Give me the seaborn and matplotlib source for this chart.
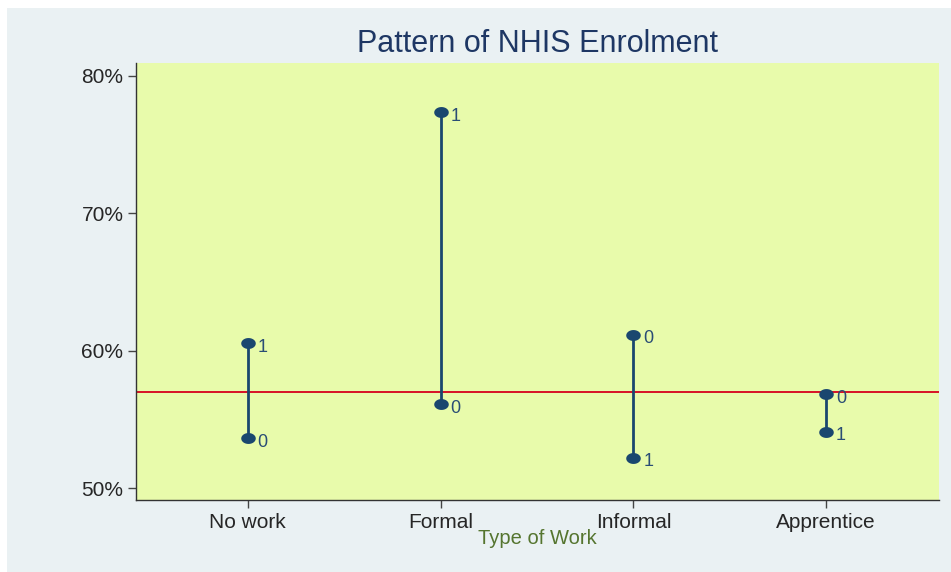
import numpy as np
import pandas as pd
import matplotlib
matplotlib.use("Agg")
import matplotlib.pyplot as plt
import seaborn as sns
from matplotlib.patches import Rectangle
from matplotlib.path import Path

# data
work_types = ["No work", "Formal", "Informal", "Apprentice"]
enrol_group1 = [60.55, 77.35, 52.2, 54.1]   # label "1"
enrol_group0 = [53.65, 56.1, 61.15, 56.85]  # label "0"
overall_rate = 56.95
y_ticks = [50, 60, 70, 80]

navy = "#1a476f"
df = pd.DataFrame({
    "pos": list(range(4)) * 2,
    "rate": enrol_group1 + enrol_group0,
    "grp": ["1"] * 4 + ["0"] * 4,
})

# slightly flattened circle, like the stata marker in the original
t = np.linspace(0, 2 * np.pi, 40)
ellipse = Path(np.column_stack([np.cos(t), 0.75 * np.sin(t)]), closed=True)

sns.set_style("white")
plt.rcParams["font.family"] = ["Liberation Sans", "DejaVu Sans"]

fig = plt.figure(figsize=(9.51, 5.72), dpi=100, facecolor="white")
fig.patches.append(Rectangle((7 / 951, 0), 1, 1 - 8 / 572, transform=fig.transFigure,
                             facecolor="#eaf1f3", edgecolor="none", zorder=-10))
ax = fig.add_axes([136 / 951, (572 - 500) / 572, (939 - 136) / 951, (500 - 63) / 572])
ax.set_facecolor("#e8fbab")

ax.axhline(overall_rate, color="#d6001c", lw=1.3, zorder=1)
ax.vlines(range(4), enrol_group0, enrol_group1, color=navy, lw=2, zorder=2)
sns.scatterplot(data=df, x="pos", y="rate", ax=ax, color=navy, s=110, marker=ellipse,
                edgecolor=navy, linewidth=0, zorder=3, legend=False)
for _, r in df.iterrows():
    ax.annotate(r["grp"], (r["pos"], r["rate"]), xytext=(7, -3),
                textcoords="offset points", color="#2a4d75", fontsize=13,
                va="center", ha="left")

ax.set_xlim(-0.58, 3.585)
ax.set_ylim(49.13, 80.91)
ax.set_xticks(range(4))
ax.set_xticklabels(work_types, fontsize=15)
ax.set_yticks(y_ticks)
ax.set_yticklabels([f"{t}%" for t in y_ticks], fontsize=15)
ax.tick_params(axis="both", which="major", length=6, width=1, color="#444444",
               direction="out", left=True, bottom=True, pad=3)
for side in ["top", "right"]:
    ax.spines[side].set_visible(False)
for side in ["left", "bottom"]:
    ax.spines[side].set_color("#333333")
    ax.spines[side].set_linewidth(1)

ax.set_xlabel("Type of Work", color="#55752f", fontsize=14.5, labelpad=-2)
ax.set_ylabel("")
fig.text((136 + 939) / 2 / 951, 1 - 44 / 572, "Pattern of NHIS Enrolment",
         ha="center", va="center", fontsize=22, color="#1e3764")

fig.savefig("out.png", dpi=100)
